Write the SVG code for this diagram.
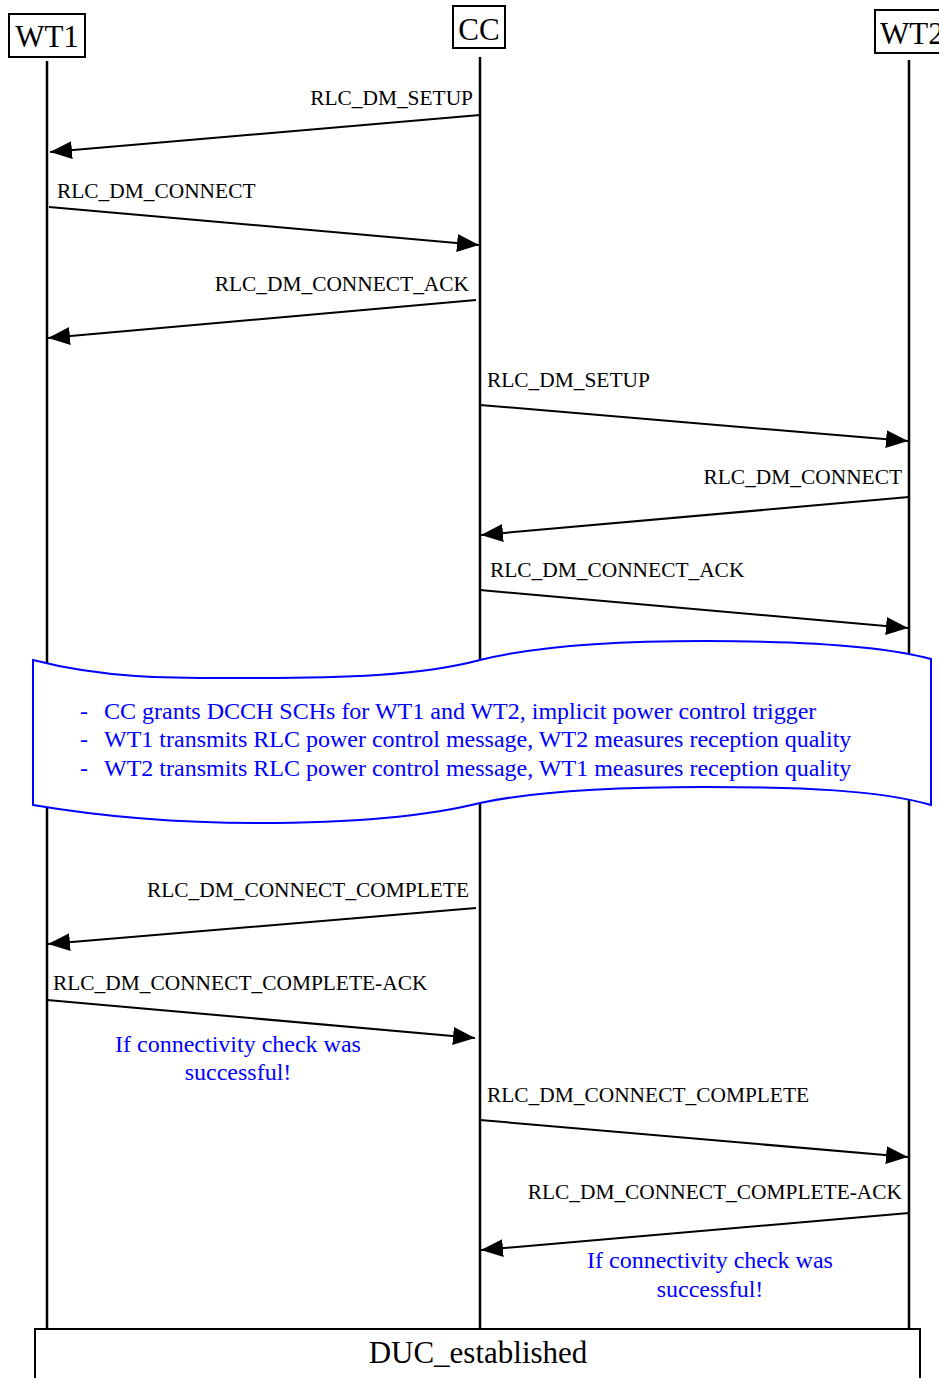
<svg xmlns="http://www.w3.org/2000/svg" width="939" height="1378" viewBox="0 0 939 1378">
<style>
.hd{fill:#fff;stroke:#000;stroke-width:2}
.hdt{font-family:"Liberation Serif",serif;font-size:31px;fill:#000}
.life{stroke:#000;stroke-width:2.5;fill:none}
.msg{stroke:#000;stroke-width:2;fill:none;marker-end:url(#ah)}
.lbl{font-family:"Liberation Serif",serif;font-size:21.4px;fill:#000}
.blue{font-family:"Liberation Serif",serif;font-size:24px;fill:#0000ff}
.ban{fill:#fff;stroke:#0000ff;stroke-width:2}
</style>
<defs>
<marker id="ah" markerUnits="userSpaceOnUse" markerWidth="24" markerHeight="20" refX="22" refY="9" orient="auto">
<path d="M0,0 L22,9 L0,18 Z" fill="#000"/>
</marker>
</defs>
<rect width="939" height="1378" fill="#fff"/>
<g id="lifelines">
<line class="life" x1="47" y1="61" x2="47" y2="1330"/>
<line class="life" x1="480" y1="57" x2="480" y2="1330"/>
<line class="life" x1="909" y1="60" x2="909" y2="1330"/>
</g>
<g id="node-WT1"><rect class="hd" x="9" y="14" width="76" height="43"/><text class="hdt" x="47" y="47" text-anchor="middle" font-size="32">WT1</text></g>
<g id="node-CC"><rect class="hd" x="453" y="6" width="52" height="42"/><text class="hdt" x="479" y="40" text-anchor="middle" font-size="32">CC</text></g>
<g id="node-WT2"><rect class="hd" x="875" y="10" width="70" height="43"/><text class="hdt" x="880" y="44" font-size="32">WT2</text></g>
<g id="connectors">
<line class="msg" x1="480" y1="115" x2="50" y2="152"/>
<line class="msg" x1="49" y1="207" x2="479" y2="245"/>
<line class="msg" x1="476" y1="300" x2="48" y2="338"/>
<line class="msg" x1="480" y1="405" x2="908" y2="441"/>
<line class="msg" x1="909" y1="497" x2="481" y2="535"/>
<line class="msg" x1="480" y1="590" x2="908" y2="628"/>
<line class="msg" x1="476" y1="908" x2="48" y2="944"/>
<line class="msg" x1="47" y1="1000" x2="475" y2="1038"/>
<line class="msg" x1="480" y1="1120" x2="908" y2="1157"/>
<line class="msg" x1="909" y1="1213" x2="481" y2="1250"/>
</g>
<g id="labels">
<text class="lbl" x="473" y="105" text-anchor="end">RLC_DM_SETUP</text>
<text class="lbl" x="57" y="198">RLC_DM_CONNECT</text>
<text class="lbl" x="469" y="291" text-anchor="end">RLC_DM_CONNECT_ACK</text>
<text class="lbl" x="487" y="387">RLC_DM_SETUP</text>
<text class="lbl" x="902" y="484" text-anchor="end">RLC_DM_CONNECT</text>
<text class="lbl" x="490" y="577">RLC_DM_CONNECT_ACK</text>
<text class="lbl" x="469" y="897" text-anchor="end">RLC_DM_CONNECT_COMPLETE</text>
<text class="lbl" x="53" y="990">RLC_DM_CONNECT_COMPLETE-ACK</text>
<text class="lbl" x="487" y="1102">RLC_DM_CONNECT_COMPLETE</text>
<text class="lbl" x="902" y="1199" text-anchor="end">RLC_DM_CONNECT_COMPLETE-ACK</text>
</g>
<g id="note-check1">
<text class="blue" x="238" y="1052" text-anchor="middle">If connectivity check was</text>
<text class="blue" x="238" y="1080" text-anchor="middle">successful!</text>
</g>
<g id="note-check2">
<text class="blue" x="710" y="1268" text-anchor="middle">If connectivity check was</text>
<text class="blue" x="710" y="1297" text-anchor="middle">successful!</text>
</g>
<g id="banner">
<path class="ban" d="M33,660 C110,680 180,678 258,678 C340,678 420,676 480,660 C540,645 620,641 705,641 C800,641 880,645 931,659 L931,805 C880,790 800,787 705,787 C620,787 540,790 480,803 C420,818 340,823 258,823 C180,823 110,818 33,805 Z"/>
<text class="blue" x="80" y="719">-</text>
<text class="blue" x="104" y="719">CC grants DCCH SCHs for WT1 and WT2, implicit power control trigger</text>
<text class="blue" x="80" y="747">-</text>
<text class="blue" x="104" y="747">WT1 transmits RLC power control message, WT2 measures reception quality</text>
<text class="blue" x="80" y="776">-</text>
<text class="blue" x="104" y="776">WT2 transmits RLC power control message, WT1 measures reception quality</text>
</g>
<g id="node-DUC">
<rect class="hd" x="35" y="1329" width="885" height="60"/>
<text class="hdt" x="478" y="1363" text-anchor="middle" font-size="32">DUC_established</text>
</g>
</svg>
